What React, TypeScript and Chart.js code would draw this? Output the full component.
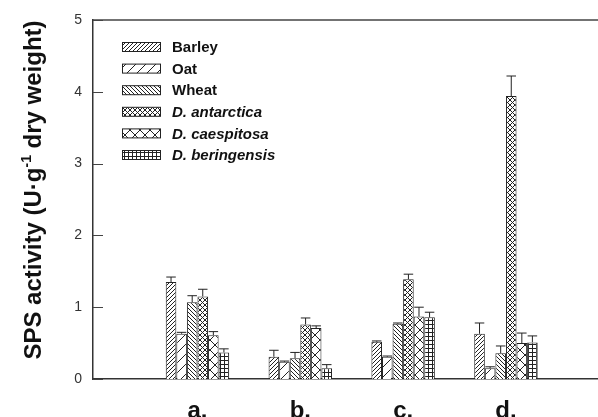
import { useEffect, useRef } from 'react';
import { Chart, registerables } from 'chart.js';
Chart.register(...registerables);

const categories = ['a.', 'b.', 'c.', 'd.'];
const groupPositions = [1, 2, 3, 4];
const seriesNames = ['Barley', 'Oat', 'Wheat', 'D. antarctica', 'D. caespitosa', 'D. beringensis'];
const seriesItalic = [false, false, false, true, true, true];

const barley = [1.35, 0.31, 0.52, 0.63];
const barleyErr = [0.07, 0.09, 0.01, 0.15];
const oat = [0.63, 0.24, 0.31, 0.15];
const oatErr = [0.02, 0.01, 0.01, 0.02];
const wheat = [1.07, 0.29, 0.77, 0.36];
const wheatErr = [0.09, 0.08, 0.01, 0.1];
const antarctica = [1.15, 0.76, 1.39, 3.94];
const antarcticaErr = [0.1, 0.09, 0.07, 0.28];
const caespitosa = [0.61, 0.71, 0.87, 0.5];
const caespitosaErr = [0.05, 0.03, 0.13, 0.14];
const beringensis = [0.37, 0.15, 0.86, 0.51];
const beringensisErr = [0.05, 0.05, 0.07, 0.09];

const yTicks = [0, 1, 2, 3, 4, 5];

const seriesValues = [barley, oat, wheat, antarctica, caespitosa, beringensis];
const seriesErrors = [barleyErr, oatErr, wheatErr, antarcticaErr, caespitosaErr, beringensisErr];
const patternKinds = ['fwd-dense', 'fwd-sparse', 'back-dense', 'cross-dense', 'x-sparse', 'grid'];

const INK = '#222';

function makePattern(kind: string): CanvasPattern | string {
  const c = document.createElement('canvas');
  let size = 4;
  if (kind === 'fwd-sparse' || kind === 'x-sparse') size = 10;
  if (kind === 'cross-dense') size = 5;
  c.width = size;
  c.height = size;
  const g = c.getContext('2d')!;
  g.fillStyle = '#fff';
  g.fillRect(0, 0, size, size);
  g.strokeStyle = INK;
  g.lineWidth = 1;
  const fwd = () => {
    g.beginPath();
    for (const o of [-size, 0, size]) {
      g.moveTo(o, size);
      g.lineTo(o + size, 0);
    }
    g.stroke();
  };
  const back = () => {
    g.beginPath();
    for (const o of [-size, 0, size]) {
      g.moveTo(o, 0);
      g.lineTo(o + size, size);
    }
    g.stroke();
  };
  if (kind === 'fwd-dense' || kind === 'fwd-sparse') fwd();
  else if (kind === 'back-dense') back();
  else if (kind === 'cross-dense' || kind === 'x-sparse') {
    fwd();
    back();
  } else if (kind === 'grid') {
    g.beginPath();
    g.moveTo(0, 0.5);
    g.lineTo(size, 0.5);
    g.moveTo(0.5, 0);
    g.lineTo(0.5, size);
    g.stroke();
  }
  return g.createPattern(c, 'repeat') || '#fff';
}

export default function App() {
  const ref = useRef<HTMLCanvasElement>(null);
  useEffect(() => {
    if (!ref.current) return;
    const patterns = patternKinds.map(makePattern);

    const framePlugin = {
      id: 'frame',
      afterDatasetsDraw(chart: any) {
        const ctx = chart.ctx;
        const ys = chart.scales.y;
        const area = chart.chartArea;
        ctx.save();
        // error bars
        seriesValues.forEach((vals, i) => {
          const meta = chart.getDatasetMeta(i);
          meta.data.forEach((bar: any, j: number) => {
            const p = bar.getProps(['x', 'y', 'width'], true);
            const top = ys.getPixelForValue(vals[j] + seriesErrors[i][j]);
            const hw = p.width * 0.45;
            ctx.strokeStyle = INK;
            ctx.lineWidth = 1;
            ctx.beginPath();
            ctx.moveTo(p.x, p.y);
            ctx.lineTo(p.x, top);
            ctx.moveTo(p.x - hw, top);
            ctx.lineTo(p.x + hw, top);
            ctx.stroke();
          });
        });
        // top line
        ctx.strokeStyle = '#444';
        ctx.lineWidth = 1.5;
        ctx.beginPath();
        ctx.moveTo(area.left, area.top);
        ctx.lineTo(area.right, area.top);
        ctx.stroke();
        // inward y ticks
        ctx.lineWidth = 1;
        yTicks.forEach((t) => {
          const y = Math.round(ys.getPixelForValue(t)) + 0.5;
          ctx.beginPath();
          ctx.moveTo(area.left, y);
          ctx.lineTo(area.left + 10, y);
          ctx.stroke();
        });
        // legend
        const lx = 122;
        seriesNames.forEach((name, i) => {
          const cy = 47 + i * 21.6;
          ctx.fillStyle = patterns[i] as any;
          ctx.fillRect(lx, cy - 4.5, 39, 9);
          ctx.strokeStyle = INK;
          ctx.strokeRect(lx + 0.5, cy - 4.5, 38, 9);
          ctx.fillStyle = '#111';
          ctx.font = (seriesItalic[i] ? 'italic ' : '') + 'bold 15px "Liberation Sans", Arial, sans-serif';
          ctx.textBaseline = 'middle';
          ctx.textAlign = 'left';
          ctx.fillText(name, 172, cy + 1);
        });
        // y title
        ctx.translate(33, 190);
        ctx.rotate(-Math.PI / 2);
        const big = 'bold 24px "Liberation Sans", Arial, sans-serif';
        const small = 'bold 14px "Liberation Sans", Arial, sans-serif';
        const p1 = 'SPS activity (U\u00B7g';
        const p2 = '-1';
        const p3 = ' dry weight)';
        ctx.font = big;
        const w1 = ctx.measureText(p1).width;
        const w3 = ctx.measureText(p3).width;
        ctx.font = small;
        const w2 = ctx.measureText(p2).width;
        const total = w1 + w2 + w3;
        let x = -total / 2;
        ctx.fillStyle = '#111';
        ctx.textBaseline = 'alphabetic';
        ctx.font = big;
        ctx.fillText(p1, x, 8);
        x += w1;
        ctx.font = small;
        ctx.fillText(p2, x, -2);
        x += w2;
        ctx.font = big;
        ctx.fillText(p3, x, 8);
        ctx.restore();
      },
    };

    const chart = new Chart(ref.current, {
      type: 'bar',
      data: {
        datasets: seriesNames.map((name, i) => ({
          label: name,
          data: seriesValues[i].map((v, j) => ({ x: groupPositions[j], y: v })),
          backgroundColor: patterns[i] as any,
          borderColor: INK,
          borderWidth: 1,
          barPercentage: 1,
          categoryPercentage: 0.617,
        })),
      },
      options: {
        animation: false,
        responsive: true,
        maintainAspectRatio: false,
        layout: { padding: { top: 20, right: 0, left: 0, bottom: 0 } },
        plugins: { legend: { display: false }, tooltip: { enabled: false } },
        scales: {
          x: {
            type: 'linear',
            offset: false,
            min: -0.016,
            max: 4.895,
            afterBuildTicks: (s: any) => {
              s.ticks = groupPositions.map((v) => ({ value: v }));
            },
            afterFit: (s: any) => {
              s.height = 38;
            },
            grid: { display: false },
            border: { display: true, color: '#333', width: 1.5 },
            ticks: {
              autoSkip: false,
              maxRotation: 0,
              padding: 10,
              color: '#111',
              font: { family: '"Liberation Sans", Arial, sans-serif', size: 24, weight: 'bold' },
              callback: (v: any) => {
                const k = groupPositions.indexOf(Number(v));
                return k >= 0 ? categories[k] : '';
              },
            },
          },
          y: {
            min: 0,
            max: 5,
            afterBuildTicks: (s: any) => {
              s.ticks = yTicks.map((v) => ({ value: v }));
            },
            afterFit: (s: any) => {
              s.width = 93;
            },
            grid: { display: false },
            border: { display: true, color: '#333', width: 1.5 },
            ticks: {
              padding: 3,
              color: '#333',
              font: { family: '"Liberation Sans", Arial, sans-serif', size: 14 },
            },
          },
        },
      } as any,
      plugins: [framePlugin],
    });
    return () => chart.destroy();
  }, []);

  return (
    <div style={{ position: 'fixed', left: 0, top: 0, width: 598, height: 417, background: '#fff' }}>
      <canvas ref={ref} />
    </div>
  );
}
